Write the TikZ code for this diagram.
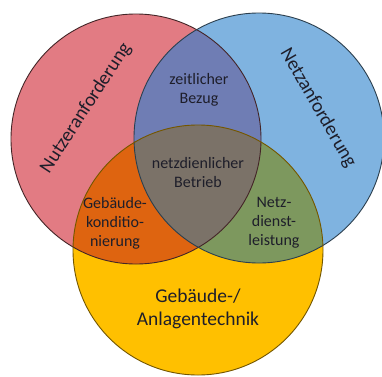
\documentclass[tikz,border=0pt]{standalone}
\usepackage{fontspec}
\setmainfont{Carlito}
\definecolor{cred}{HTML}{E27B83}
\definecolor{cblue}{HTML}{7FB3E0}
\definecolor{cyel}{HTML}{FFC000}
\definecolor{crb}{HTML}{6F7DB4}
\definecolor{cry}{HTML}{DE6410}
\definecolor{cby}{HTML}{7D985E}
\definecolor{call}{HTML}{7B7268}
\definecolor{ctext}{HTML}{1E1E2A}
\tikzset{
  lbl/.style={align=center, text=ctext, inner sep=0pt, font=\fontsize{16}{19}\selectfont},
  biglbl/.style={align=center, text=ctext, inner sep=0pt, font=\fontsize{19.5}{23}\selectfont},
  rim/.style={line width=0.9pt}
}
\begin{document}
\begin{tikzpicture}[x=1pt,y=1pt]
\useasboundingbox (0,0) rectangle (382,376);
\fill[white] (0,0) rectangle (382,376);
\clip (0,0) rectangle (382,376);
\coordinate (R) at (136,237);
\coordinate (B) at (259,238);
\coordinate (Y) at (198,126);
\fill[cred] (R) circle (125pt);
\fill[cblue] (B) circle (125pt);
\fill[cyel] (Y) circle (125pt);
\begin{scope}
  \clip (R) circle (125pt);
  \fill[crb] (B) circle (125pt);
  \fill[cry] (Y) circle (125pt);
\end{scope}
\begin{scope}
  \clip (B) circle (125pt);
  \fill[cby] (Y) circle (125pt);
  \clip (R) circle (125pt);
  \fill[call] (Y) circle (125pt);
\end{scope}
\draw[rim, draw=black!70!cred] (R) circle (125pt);
\draw[rim, draw=black!65!cblue] (B) circle (125pt);
\draw[rim, draw=black!55!cyel] (Y) circle (125pt);

\node[biglbl, rotate=57] (nutzer) at (86,268) {Nutzeranforderung};
\node[biglbl, rotate=-60] (netz) at (318,268) {Netzanforderung};
\node[lbl] (zeit) at (199,286) {zeitlicher\\Bezug};
\node[lbl] (betrieb) at (198,203) {netzdienlicher\\Betrieb};
\node[lbl] (kond) at (115,153) {Gebäude-\\konditio-\\nierung};
\node[lbl] (dienst) at (274,153) {Netz-\\dienst-\\leistung};
\node[biglbl] (anlage) at (198,67) {Gebäude-/\\Anlagentechnik};
\end{tikzpicture}
\end{document}
